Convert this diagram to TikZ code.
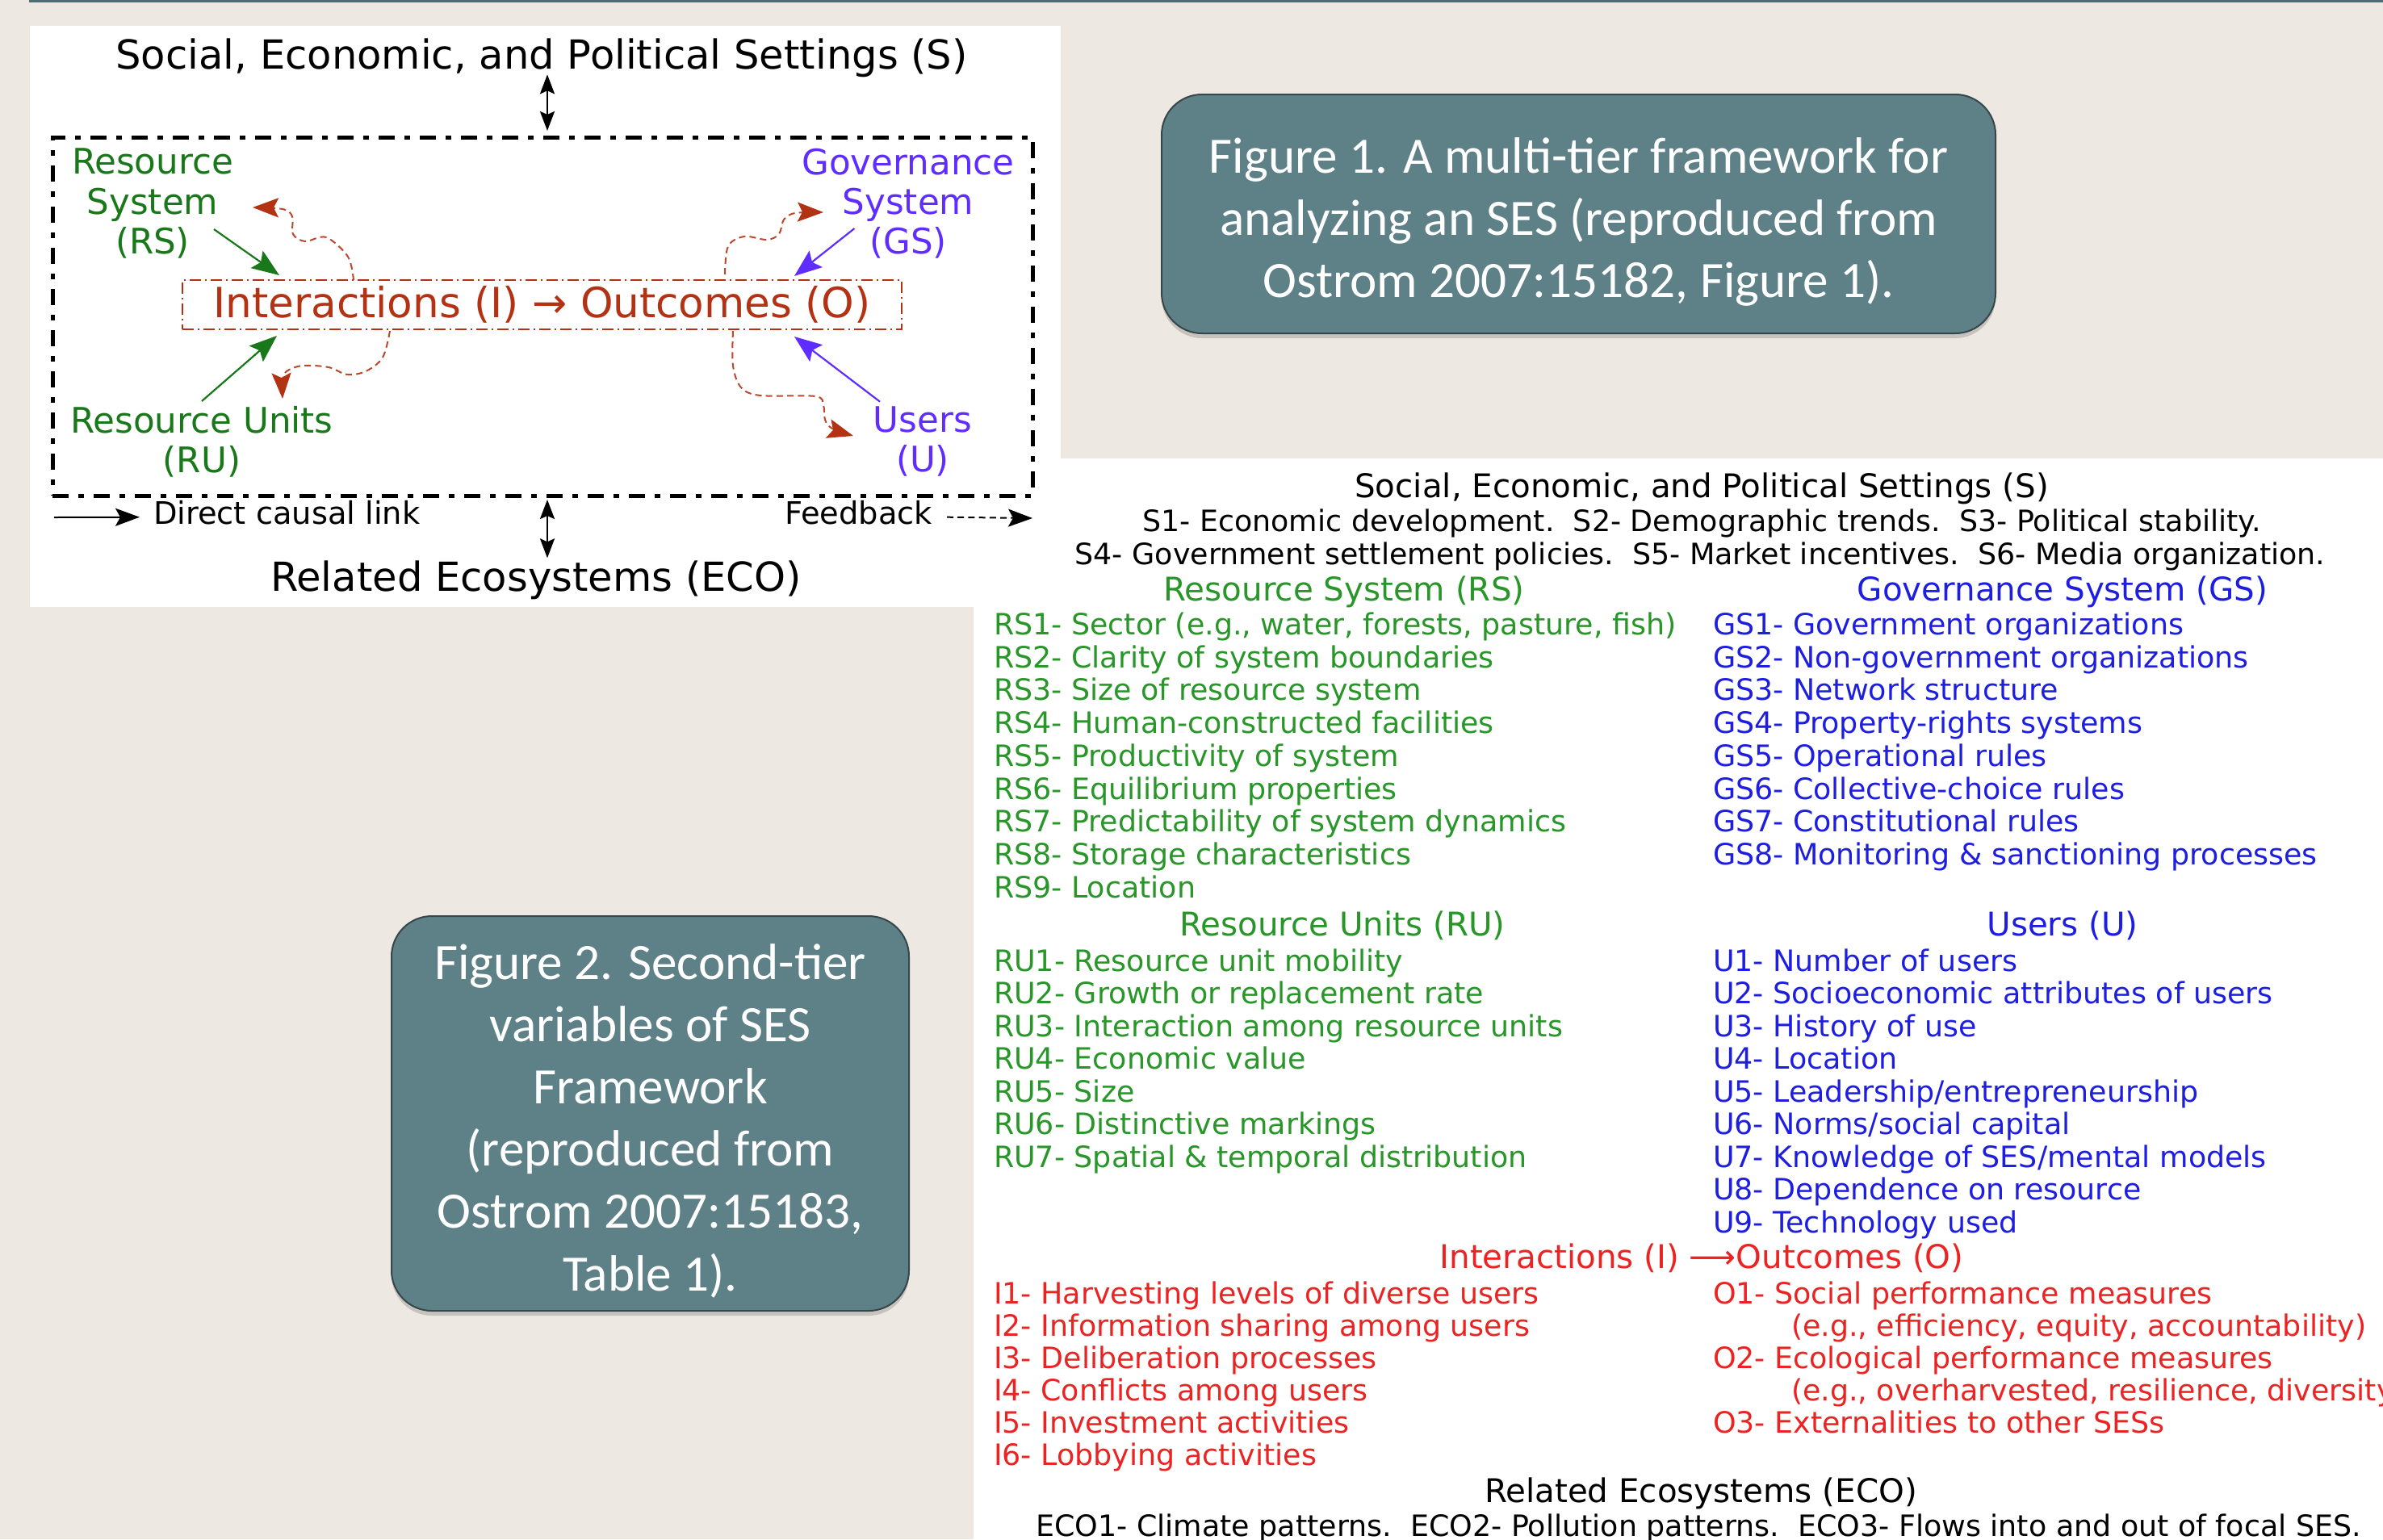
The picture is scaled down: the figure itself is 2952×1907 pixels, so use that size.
\documentclass[tikz,border=0pt]{standalone}
\usepackage{fontspec}
\setmainfont{DejaVu Sans}
\newfontfamily\capfont{Carlito}
\usetikzlibrary{arrows.meta,calc,shadows}
\definecolor{bg}{RGB}{237,232,226}
\definecolor{topline}{RGB}{79,110,115}
\definecolor{capfill}{RGB}{94,128,135}
\definecolor{capedge}{RGB}{55,70,72}
\definecolor{fgreen}{RGB}{25,120,25}
\definecolor{fblue}{RGB}{95,45,255}
\definecolor{fred}{RGB}{180,50,20}
\definecolor{tgreen}{RGB}{40,150,40}
\definecolor{tblue}{RGB}{30,30,225}
\definecolor{tred}{RGB}{235,35,35}
\begin{document}
\begin{tikzpicture}[x=0.25pt,y=-0.25pt,
  every node/.style={inner sep=0pt,outer sep=0pt},
  ftitle/.style={font=\fontsize{12.4}{14}\selectfont},
  flab/.style={font=\fontsize{10.9}{12.3}\selectfont,align=center},
  fleg/.style={font=\fontsize{9.6}{11}\selectfont},
  frame/.style={draw=black,line width=1.25pt,dash pattern=on 5pt off 3pt on 1.75pt off 3pt},
  iobox/.style={draw=fred,line width=0.4pt,dash pattern=on 3.5pt off 1.2pt on 0.6pt off 1.2pt,text=fred,font=\fontsize{12.9}{14}\selectfont},
  garr/.style={draw=fgreen,line width=0.55pt,-{Stealth[length=8.5pt,width=6.5pt,inset=1.5pt]},fgreen},
  barr/.style={draw=fblue,line width=0.55pt,-{Stealth[length=8.5pt,width=6.5pt,inset=1.5pt]},fblue},
  fback/.style={draw=fred!90!white,line width=0.5pt,dash pattern=on 2pt off 1.3pt,-{Stealth[length=8pt,width=6pt,inset=1.5pt,color=fred,fill=fred]}},
  karr/.style={draw=black,line width=0.5pt,-{Stealth[length=7.5pt,width=5.5pt,inset=1.5pt]}},
  dbl/.style={draw=black,line width=0.7pt,{Stealth[length=6pt,width=4.5pt,inset=1pt]}-{Stealth[length=6pt,width=4.5pt,inset=1pt]}},
  capbox/.style={draw=capedge,line width=0.5pt,fill=capfill,rounded corners=12.5pt,drop shadow={shadow xshift=0pt,shadow yshift=-1.5pt,opacity=0.35}},
  captext/.style={text=white,align=center,font=\capfont\fontsize{15.8}{19.3}\selectfont},
  thead/.style={font=\fontsize{10.1}{12}\selectfont,anchor=base},
  titem/.style={font=\fontsize{9.1}{11}\selectfont,anchor=base west},
  tline/.style={font=\fontsize{9.1}{11}\selectfont,anchor=base}
]
\useasboundingbox (0,0) rectangle (2952,1907);
\fill[bg] (0,0) rectangle (2952,1907);
\fill[topline] (36,0) rectangle (2952,3);
% panels
\fill[white] (1206,568) rectangle (2952,1907);
\fill[white] (37,32) rectangle (1314,752);

% ---------- Figure 1 ----------
\node[ftitle,anchor=base] (set) at (671,85) {Social, Economic, and Political Settings (S)};
\node[ftitle,anchor=base] (eco) at (664,732) {Related Ecosystems (ECO)};
\node[frame,minimum width=303.5pt,minimum height=111pt] (frame) at (672,392) {};
\node[iobox,minimum width=222.75pt,minimum height=15.25pt] (io) at (671.5,377.5) {Interactions (I) → Outcomes (O)};
\node[flab,text=fgreen] (rs) at (189,252) {Resource\\System\\(RS)};
\node[flab,text=fblue] (gs) at (1125,252) {Governance\\System\\(GS)};
\node[flab,text=fgreen] (ru) at (250,547) {Resource Units\\(RU)};
\node[flab,text=fblue] (us) at (1143,547) {Users\\(U)};
\node[fleg,anchor=base west] (dcl) at (190,649) {Direct causal link};
\node[fleg,anchor=base east] (fb) at (1155,649) {Feedback};

\draw[dbl] ($(set.south)+(7,-3)$) -- ($(frame.north)+(6,-8)$);
\draw[dbl] ($(frame.south)+(6,5)$) -- ($(eco.north)+(14,-3)$);

\draw[garr] ($(rs.east)+(-24,32)$) -- ($(io.north west)+(120,-6)$);
\draw[barr] ($(gs.west)+(65,31)$) -- ($(io.north east)+(-133,-5)$);
\draw[garr] ($(ru.north)+(0,-6)$) -- ($(io.south west)+(117,8)$);
\draw[barr] ($(us.north)+(-53,-6)$) -- ($(io.south east)+(-133,9)$);

\coordinate (c1s) at ($(io.north west)+(212,0)$);
\coordinate (c2s) at ($(io.north west)+(672,-7)$);
\coordinate (c3s) at ($(io.south west)+(257,2)$);
\coordinate (c4s) at ($(io.south west)+(682,2)$);
\draw[fback] plot[smooth,tension=0.55] coordinates {(c1s) (431,318) (404,294) (378,299) (363,290) (362,268) (350,259) (313,257)};
\draw[fback] plot[smooth,tension=0.55] coordinates {(c2s) (902,305) (922,293) (950,297) (965,290) (971,272) (985,264) (1020,263)};
\draw[fback] plot[smooth,tension=0.55] coordinates {(c3s) (474,443) (453,460) (430,464) (407,455) (375,453) (355,460) (350,472) (350,494)};
\draw[fback] plot[smooth,tension=0.55] coordinates {(c4s) (908,453) (918,480) (942,490) (1010,491) (1020,502) (1022,520) (1031,531) (1057,540)};

\coordinate (lg1) at (67,641);
\draw[karr] (lg1) -- ($(dcl.west)+(-17,6)$);
\coordinate (lg2) at (1279,642);
\draw[karr,dash pattern=on 2pt off 1.3pt] ($(fb.east)+(18,6)$) -- (lg2);

% ---------- captions ----------
\node[capbox,minimum width=258.25pt,minimum height=74pt] (cap1) at (1955.5,265) {};
\node[captext] (cap1t) at ($(cap1.center)+(0,10)$)
  {Figure 1. A multi-tier framework for\\analyzing an SES (reproduced from\\Ostrom 2007:15182, Figure 1).};
\node[capbox,minimum width=160.25pt,minimum height=122.25pt] (cap2) at (805.5,1379.5) {};
\node[captext] (cap2t) at ($(cap2.center)+(0,9)$)
  {Figure 2. Second-tier\\variables of SES\\Framework\\(reproduced from\\Ostrom 2007:15183,\\Table 1).};

% ---------- Figure 2 table ----------
\node[thead] (tS) at (2108,616) {Social, Economic, and Political Settings (S)};
\node[tline] (tS1) at (2108,658) {S1- Economic development.\ \ S2- Demographic trends.\ \ S3- Political stability.};
\node[tline] (tS4) at (2106,699) {S4- Government settlement policies.\ \ S5- Market incentives.\ \ S6- Media organization.};

\node[thead,text=tgreen] (tRS) at (1665,744) {Resource System (RS)};
\node[thead,text=tblue] (tGS) at (2555,744) {Governance System (GS)};
\begin{scope}[every node/.append style={titem,text=tgreen}]
\node (rs1) at (1231,786) {RS1- Sector (e.g., water, forests, pasture, fish)};
\node (rs2) at (1231,827) {RS2- Clarity of system boundaries};
\node (rs3) at (1231,867) {RS3- Size of resource system};
\node (rs4) at (1231,908) {RS4- Human-constructed facilities};
\node (rs5) at (1231,949) {RS5- Productivity of system};
\node (rs6) at (1231,990) {RS6- Equilibrium properties};
\node (rs7) at (1231,1030) {RS7- Predictability of system dynamics};
\node (rs8) at (1231,1071) {RS8- Storage characteristics};
\node (rs9) at (1231,1112) {RS9- Location};
\end{scope}
\begin{scope}[every node/.append style={titem,text=tblue}]
\node (gs1) at (2122,786) {GS1- Government organizations};
\node (gs2) at (2122,827) {GS2- Non-government organizations};
\node (gs3) at (2122,867) {GS3- Network structure};
\node (gs4) at (2122,908) {GS4- Property-rights systems};
\node (gs5) at (2122,949) {GS5- Operational rules};
\node (gs6) at (2122,990) {GS6- Collective-choice rules};
\node (gs7) at (2122,1030) {GS7- Constitutional rules};
\node (gs8) at (2122,1071) {GS8- Monitoring \& sanctioning processes};
\end{scope}

\node[thead,text=tgreen] (tRU) at (1663,1159) {Resource Units (RU)};
\node[thead,text=tblue] (tU) at (2555,1159) {Users (U)};
\begin{scope}[every node/.append style={titem,text=tgreen}]
\node (ru1) at (1231,1203) {RU1- Resource unit mobility};
\node (ru2) at (1231,1243) {RU2- Growth or replacement rate};
\node (ru3) at (1231,1284) {RU3- Interaction among resource units};
\node (ru4) at (1231,1324) {RU4- Economic value};
\node (ru5) at (1231,1365) {RU5- Size};
\node (ru6) at (1231,1405) {RU6- Distinctive markings};
\node (ru7) at (1231,1446) {RU7- Spatial \& temporal distribution};
\end{scope}
\begin{scope}[every node/.append style={titem,text=tblue}]
\node (u1) at (2122,1203) {U1- Number of users};
\node (u2) at (2122,1243) {U2- Socioeconomic attributes of users};
\node (u3) at (2122,1284) {U3- History of use};
\node (u4) at (2122,1324) {U4- Location};
\node (u5) at (2122,1365) {U5- Leadership/entrepreneurship};
\node (u6) at (2122,1405) {U6- Norms/social capital};
\node (u7) at (2122,1446) {U7- Knowledge of SES/mental models};
\node (u8) at (2122,1486) {U8- Dependence on resource};
\node (u9) at (2122,1527) {U9- Technology used};
\end{scope}

\node[thead,text=tred] (tIO) at (2108,1571) {Interactions (I) ⟶Outcomes (O)};
\begin{scope}[every node/.append style={titem,text=tred}]
\node (i1) at (1231,1615) {I1- Harvesting levels of diverse users};
\node (i2) at (1231,1655) {I2- Information sharing among users};
\node (i3) at (1231,1695) {I3- Deliberation processes};
\node (i4) at (1231,1735) {I4- Conflicts among users};
\node (i5) at (1231,1775) {I5- Investment activities};
\node (i6) at (1231,1815) {I6- Lobbying activities};
\node (o1) at (2122,1615) {O1- Social performance measures};
\node (o1b) at (2219,1655) {(e.g., efficiency, equity, accountability)};
\node (o2) at (2122,1695) {O2- Ecological performance measures};
\node (o2b) at (2219,1735) {(e.g., overharvested, resilience, diversity};
\node (o3) at (2122,1775) {O3- Externalities to other SESs};
\end{scope}

\node[thead] (tECO) at (2107,1861) {Related Ecosystems (ECO)};
\node[tline] (tECO1) at (2104,1903) {ECO1- Climate patterns.\ \ ECO2- Pollution patterns.\ \ ECO3- Flows into and out of focal SES.};
\end{tikzpicture}
\end{document}
